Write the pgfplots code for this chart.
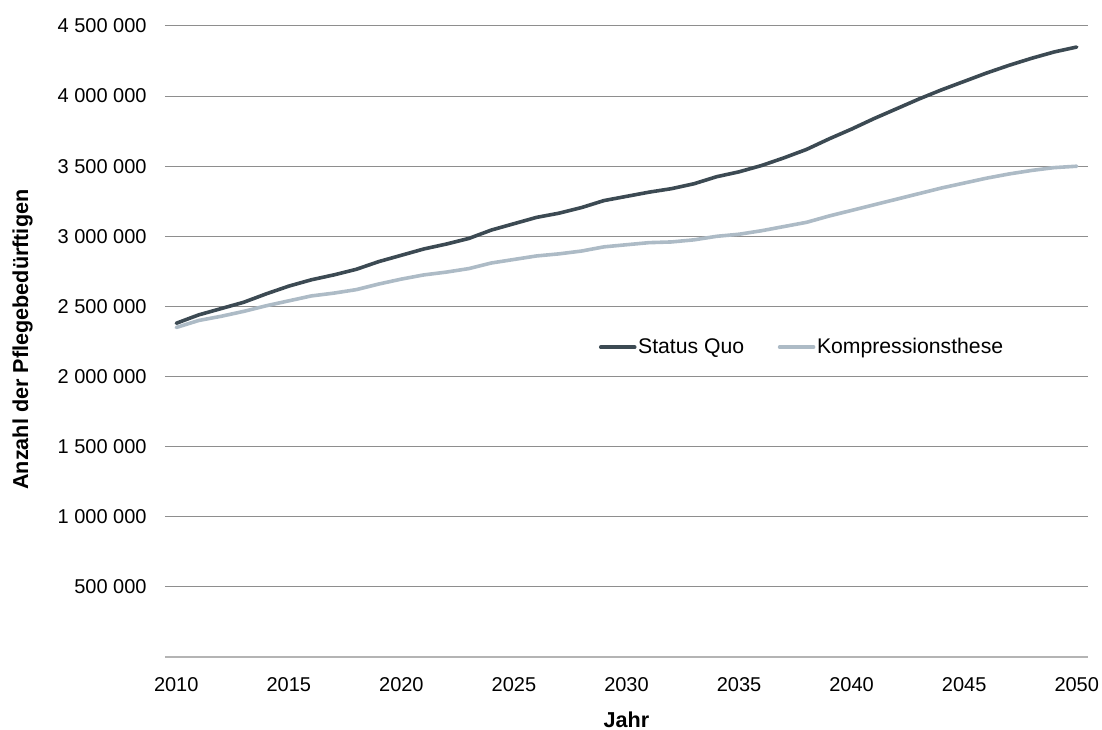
\documentclass[border=0pt]{standalone}
\usepackage{fontspec}
\setmainfont{Liberation Sans}
\usepackage{pgfplots}
\usepackage{pgfplotstable}
\pgfplotsset{compat=1.18}
\definecolor{darkline}{HTML}{3C4A53}
\definecolor{lightline}{HTML}{ADBBC6}
\definecolor{gridgray}{HTML}{8E8E8E}
\definecolor{axisgray}{HTML}{B4B4B4}
\pgfplotstableread{
year sq ko
2010 2380000 2350000
2011 2440000 2400000
2012 2485000 2430000
2013 2530000 2465000
2014 2590000 2505000
2015 2645000 2540000
2016 2690000 2575000
2017 2725000 2595000
2018 2765000 2620000
2019 2820000 2660000
2020 2865000 2695000
2021 2910000 2725000
2022 2945000 2745000
2023 2985000 2770000
2024 3045000 2810000
2025 3090000 2835000
2026 3135000 2860000
2027 3165000 2875000
2028 3205000 2895000
2029 3255000 2925000
2030 3285000 2940000
2031 3315000 2955000
2032 3340000 2960000
2033 3375000 2975000
2034 3425000 3000000
2035 3460000 3015000
2036 3505000 3040000
2037 3560000 3070000
2038 3620000 3100000
2039 3695000 3145000
2040 3765000 3185000
2041 3840000 3225000
2042 3910000 3265000
2043 3980000 3305000
2044 4045000 3345000
2045 4105000 3380000
2046 4165000 3415000
2047 4220000 3445000
2048 4270000 3470000
2049 4315000 3490000
2050 4350000 3500000
}\datatable
\begin{document}
\begin{tikzpicture}
\useasboundingbox (-82.5pt,-36pt) rectangle (468.5pt,328.5pt);
\begin{axis}[
  at={(0pt,0pt)}, anchor=south west,
  scale only axis,
  width=461.5pt, height=315.5pt,
  xmin=2009.5, xmax=2050.5,
  ymin=0, ymax=4500000,
  xtick={2010,2015,...,2050},
  ytick={500000,1000000,...,4500000},
  axis x line=bottom, axis y line=left,
  x axis line style={-, draw=axisgray, line width=0.6pt},
  y axis line style={draw=none},
  major tick length=0pt,
  tick style={draw=none},
  ymajorgrids,
  grid style={draw=gridgray, line width=0.5pt},
  font=\fontsize{10}{12}\selectfont,
  scaled x ticks=false,
  scaled y ticks=false,
  xticklabel={\pgfmathprintnumber[assume math mode=true,1000 sep={}]{\tick}},
  yticklabel={\pgfmathprintnumber[assume math mode=true,fixed,precision=0,1000 sep={\ }]{\tick}},
  xticklabel style={inner sep=0pt, anchor=north, yshift=-10pt},
  yticklabel style={inner sep=0pt, anchor=east, xshift=-9pt},
  xlabel={Jahr},
  ylabel={Anzahl der Pflegebedürftigen},
  label style={font=\fontsize{10.8}{13}\selectfont\bfseries},
  xlabel style={at={(axis description cs:0.5,-0.0855)}, anchor=north, inner sep=0pt},
  ylabel style={at={(axis description cs:-0.1658,0.503)}, anchor=north, inner sep=0pt},
  legend style={at={(axis description cs:0.690,0.491)}, anchor=center, draw=none, fill=none,
    legend columns=2, font=\fontsize{10.6}{12}\selectfont,
    /tikz/every even column/.append style={column sep=16pt},
    nodes={inner sep=0.8pt}},
  legend image code/.code={\draw[#1] (0pt,0pt) -- (17pt,0pt);},
  every axis plot/.append style={line width=1.8pt, line join=round, line cap=round},
]
\addplot[darkline, no markers] table[x=year, y=sq] {\datatable};
\addlegendentry{Status Quo}
\addplot[lightline, no markers] table[x=year, y=ko] {\datatable};
\addlegendentry{Kompressionsthese}
\end{axis}
\end{tikzpicture}
\end{document}
